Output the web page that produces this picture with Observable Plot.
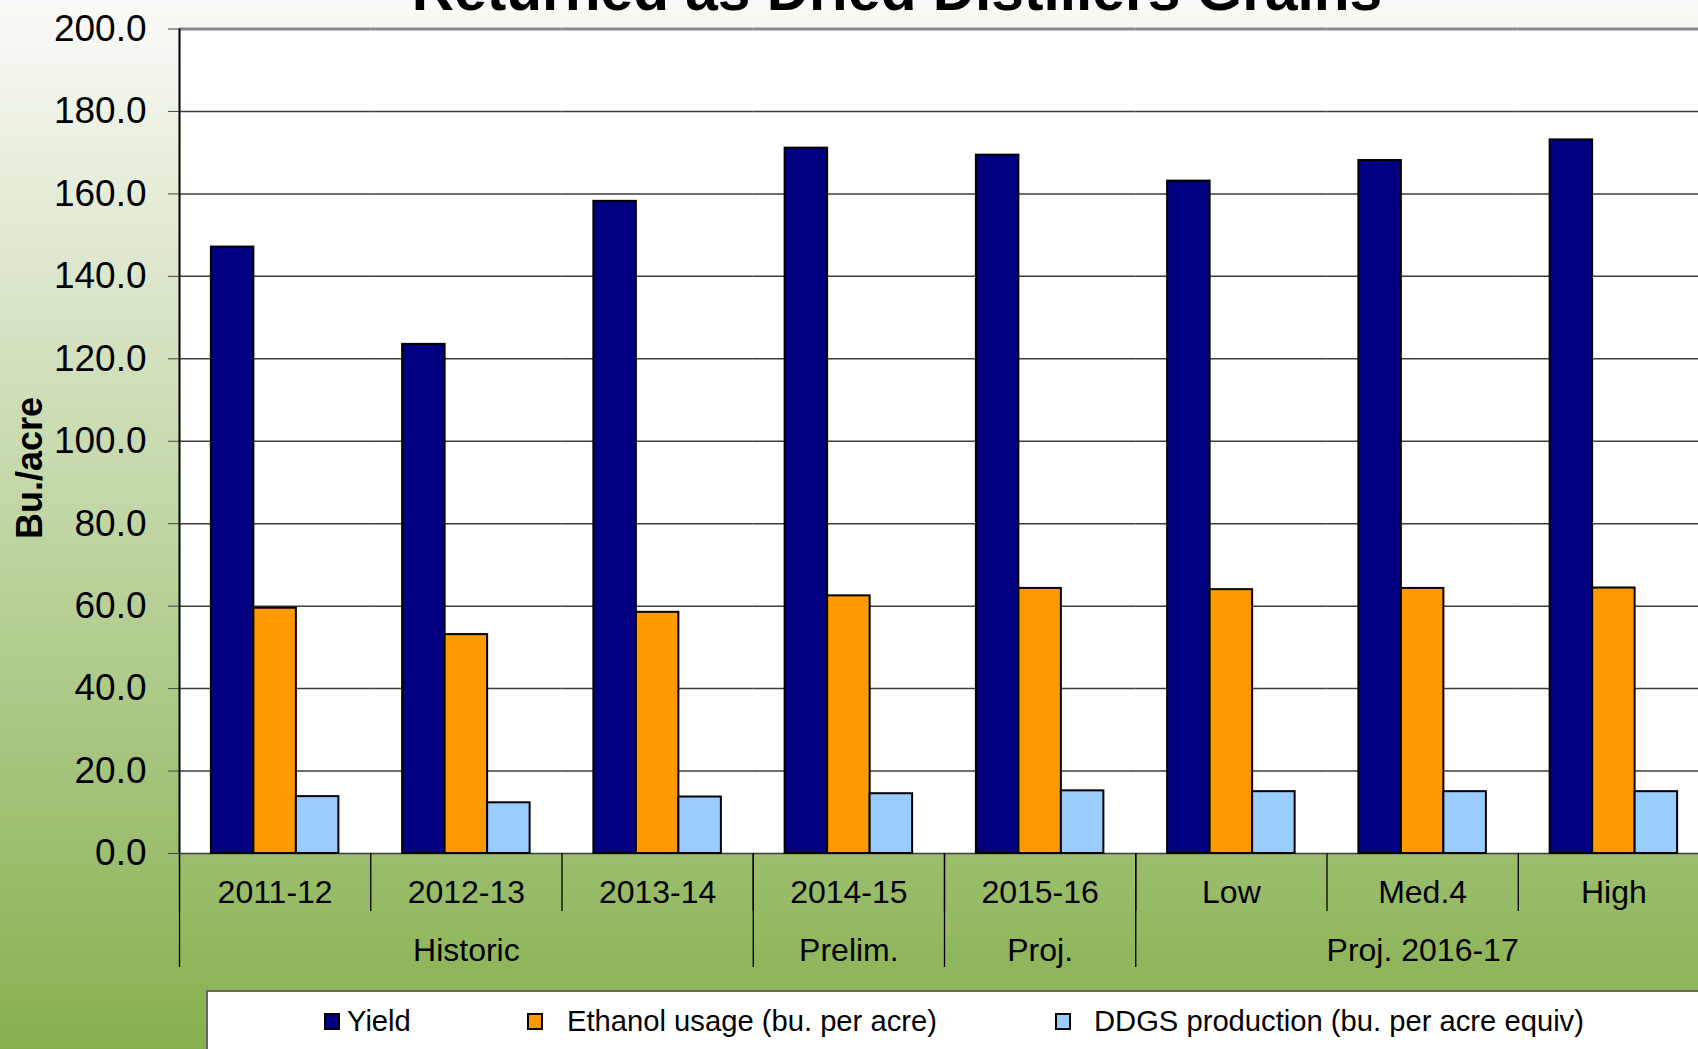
<!DOCTYPE html>
<html>
<head>
<meta charset="utf-8">
<script src="https://cdn.jsdelivr.net/npm/d3@7"></script>
<script src="https://cdn.jsdelivr.net/npm/@observablehq/plot@0.6"></script>
<style>
  html, body { margin: 0; padding: 0; overflow: hidden; }
  #chart {
    position: relative; width: 1698px; height: 1049px; overflow: hidden;
    background: linear-gradient(to bottom, #fafaf8 0%, #86b04e 100%);
    font-family: "Liberation Sans", Arial, sans-serif;
  }
  #chart svg { position: absolute; left: 0; top: 0; }
</style>
</head>
<body>
<div id="chart"></div>
<script>
// ---- Data ----
const titleText = "Returned as Dried Distillers Grains";
const yLabel = "Bu./acre";
const categories = ["2011-12", "2012-13", "2013-14", "2014-15", "2015-16", "Low", "Med.4", "High"];
const series = ["Yield", "Ethanol usage (bu. per acre)", "DDGS production (bu. per acre equiv)"];
const seriesColors = ["#000080", "#FF9900", "#99CCFF"];
const yieldValues   = [147.1, 123.5, 158.2, 171.1, 169.4, 163.1, 168.1, 173.1];
const ethanolValues = [59.5, 53.1, 58.5, 62.5, 64.3, 64.0, 64.3, 64.4];
const ddgsValues    = [13.8, 12.3, 13.7, 14.5, 15.2, 15.0, 15.0, 15.0];
const yTicks = [0, 20, 40, 60, 80, 100, 120, 140, 160, 180, 200];
const groupNames  = ["Historic", "Prelim.", "Proj.", "Proj. 2016-17"];
const groupCenter = ["2012-13", "2014-15", "2015-16", "Med.4"];
const groupStart  = ["2011-12", "2014-15", "2015-16", "Low"];

// ---- Table for Plot ----
const valueSets = [yieldValues, ethanolValues, ddgsValues];
const data = [];
categories.forEach((c, i) => series.forEach((s, j) => data.push({category: c, series: s, value: valueSets[j][i]})));
const groups = groupNames.map((g, i) => ({name: g, center: groupCenter[i], start: groupStart[i]}));

// ---- Layout ----
const W = 1709, H = 980;
const mL = 179, mR = 0, mT = 28.5, mB = 127;
const plotH = H - mT - mB;
const fxBW = (W - mL - mR) / categories.length;
const padOuter = 0.75;
const bw = fxBW / (series.length + 2 * padOuter);
const edgeDx = -(padOuter + 0.5) * bw;

const font = "'Liberation Sans', Arial, sans-serif";

const plot = Plot.plot({
  width: W, height: H,
  marginLeft: mL, marginRight: mR, marginTop: mT, marginBottom: mB,
  style: {background: "transparent", maxWidth: "none", overflow: "visible", fontFamily: font, color: "black"},
  fx: {domain: categories, padding: 0, round: false, axis: null, label: null},
  x: {domain: series, paddingInner: 0, paddingOuter: padOuter, round: false, axis: null},
  y: {domain: [0, 200], axis: null},
  color: {domain: series, range: seriesColors},
  marks: [
    Plot.frame({fill: "white", stroke: "white", strokeWidth: 1}),
    Plot.ruleY(yTicks.filter(t => t < 200), {stroke: "#3c3c3c", strokeWidth: 1.5}),
    Plot.ruleY([200], {stroke: "#888", strokeWidth: 3}),
    Plot.barY(data, {fx: "category", x: "series", y: "value", fill: "series", stroke: "black", strokeWidth: 2}),
    Plot.axisY(yTicks, {tickFormat: d => d.toFixed(1), tickSize: 11, tickPadding: 22, fontSize: 37, stroke: "#444", fill: "black", label: null}),
    // left axis line
    Plot.ruleX([categories[0]], {fx: d => d, x: () => series[0], dx: edgeDx, stroke: "black", strokeWidth: 2}),
    // category separators below the axis
    Plot.ruleX(categories, {fx: d => d, x: () => series[0], dx: edgeDx, insetTop: plotH, insetBottom: -58, stroke: "black", strokeWidth: 1.3}),
    // group separators
    Plot.ruleX(groups, {fx: "start", x: () => series[0], dx: edgeDx, insetTop: plotH, insetBottom: -114, stroke: "black", strokeWidth: 1.3}),
    Plot.text(categories, {fx: d => d, text: d => d, frameAnchor: "bottom", lineAnchor: "bottom", dy: 49.7, fontSize: 32, fill: "black"}),
    Plot.text(groups, {fx: "center", text: "name", frameAnchor: "bottom", lineAnchor: "bottom", dy: 107, fontSize: 32, fill: "black"})
  ]
});

const chart = document.getElementById("chart");
chart.appendChild(plot);

// ---- Overlay: title, y label, legend ----
const ov = d3.select(chart).append("svg")
  .attr("width", 1698).attr("height", 1049)
  .style("font-family", font)
  .style("pointer-events", "none");

ov.append("text")
  .attr("x", 897).attr("y", 10)
  .attr("text-anchor", "middle")
  .attr("font-size", 58.6).attr("font-weight", "bold")
  .attr("fill", "black")
  .text(titleText);

ov.append("text")
  .attr("transform", "translate(41.5,468) rotate(-90)")
  .attr("text-anchor", "middle")
  .attr("font-size", 36).attr("font-weight", "bold")
  .attr("fill", "black")
  .text(yLabel);

const lg = ov.append("g");
lg.append("rect")
  .attr("x", 207).attr("y", 991).attr("width", 1600).attr("height", 200)
  .attr("fill", "white").attr("stroke", "#666").attr("stroke-width", 2);
const swatchX = [325, 528, 1056];
const labelX = [347, 567, 1094];
series.forEach((s, i) => {
  lg.append("rect")
    .attr("x", swatchX[i]).attr("y", 1014).attr("width", 14).attr("height", 15)
    .attr("fill", seriesColors[i]).attr("stroke", "black").attr("stroke-width", 2);
  lg.append("text")
    .attr("x", labelX[i]).attr("y", 1031)
    .attr("font-size", 29.2).attr("fill", "black")
    .text(s);
});
</script>
</body>
</html>
